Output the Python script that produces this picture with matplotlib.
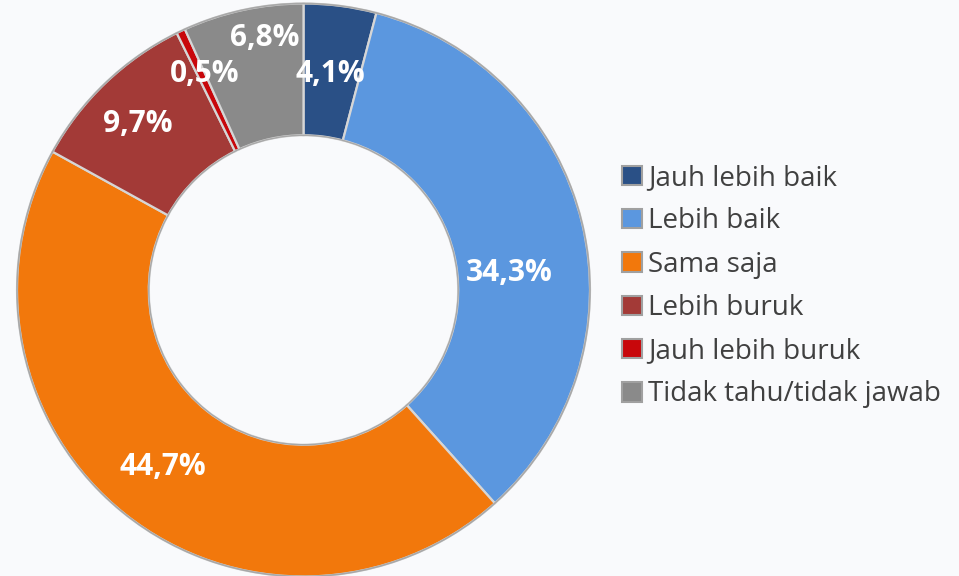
import numpy as np
import matplotlib
matplotlib.use("Agg")
import matplotlib.pyplot as plt
from matplotlib.patches import Patch

# survey answers, clockwise from the top
categories = ["Jauh lebih baik", "Lebih baik", "Sama saja", "Lebih buruk",
              "Jauh lebih buruk", "Tidak tahu/tidak jawab"]
values = [4.1, 34.3, 44.7, 9.7, 0.5, 6.8]
labels = ["4,1%", "34,3%", "44,7%", "9,7%", "0,5%", "6,8%"]
colors = ["#2A5086", "#5B97DF", "#F2780C", "#A33A37", "#C8070B", "#8A8A8A"]

W, H = 959, 576
fig = plt.figure(figsize=(W / 100, H / 100), dpi=100)
fig.patch.set_facecolor("#F9FAFC")

# donut placement in pixels
cx, cy, R = 303.5, 290, 286.5
ax = fig.add_axes([(cx - R) / W, (H - cy - R) / H, 2 * R / W, 2 * R / H])
ax.set_facecolor("none")

wedges, texts, autotexts = ax.pie(
    values, colors=colors, startangle=90, counterclock=False,
    radius=1, labels=None, autopct="%1.1f%%", pctdistance=0.79,
    wedgeprops=dict(width=0.46, edgecolor="#D6D6D6", linewidth=1.6),
)
for w in wedges:
    w.set_clip_on(False)

# outer / inner rim lines
ax.add_patch(plt.Circle((0, 0), 1.0, fill=False, ec="#A8A8A8", lw=1.2, clip_on=False))
ax.add_patch(plt.Circle((0, 0), 0.54, fill=False, ec="#A8A8A8", lw=1.0, clip_on=False))

# label angle (deg) / radius overrides where Excel moved them
spots = {0: (83, 0.76), 1: (4.7, 0.72), 3: (135, 0.82), 4: (114.6, 0.83), 5: (98.7, 0.89)}
for i, t in enumerate(autotexts):
    t.set_text(labels[i])
    t.set_color("white")
    t.set_fontsize(21.5)
    t.set_fontweight("bold")
    t.set_fontfamily("Open Sans")
    if i in spots:
        a, r = spots[i]
        t.set_position((r * np.cos(np.deg2rad(a)), r * np.sin(np.deg2rad(a))))

ax.set_xlim(-1, 1)
ax.set_ylim(-1, 1)
ax.set_aspect("equal")
ax.axis("off")

handles = [Patch(facecolor=c, edgecolor="#A0A0A0", linewidth=1.5) for c in colors]
leg = fig.legend(handles, categories, loc="upper left",
                 bbox_to_anchor=(611 / W, 1 - 153 / H),
                 frameon=False, handlelength=0.7, handleheight=0.7,
                 handletextpad=0.25, labelspacing=0.55, borderaxespad=0,
                 prop={"family": "Open Sans", "size": 20})
for txt in leg.get_texts():
    txt.set_color("#404040")

fig.savefig("out.png", dpi=100, facecolor=fig.get_facecolor())
